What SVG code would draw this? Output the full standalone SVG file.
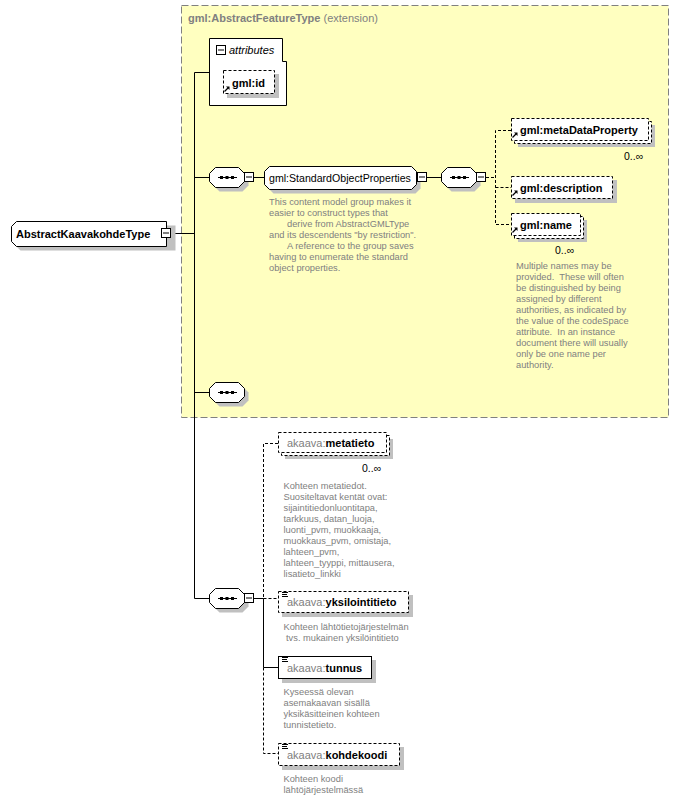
<svg xmlns="http://www.w3.org/2000/svg" xmlns:xlink="http://www.w3.org/1999/xlink" width="680" height="800" viewBox="0 0 680 800">
<style>
.bg{fill:#fff}
.box{fill:#fff;stroke:#000;stroke-width:1}
.dbox{fill:#fff;stroke:#000;stroke-width:1;stroke-dasharray:3,2}
.sh{fill:#c0c0c0}
.lbl{font-family:"Liberation Sans",Arial,sans-serif;font-size:11px;font-weight:bold;fill:#000}
.ns{font-weight:normal;fill:#808080}
.it{font-family:"Liberation Sans",Arial,sans-serif;font-size:11px;font-style:italic;fill:#000}
.reg{font-family:"Liberation Sans",Arial,sans-serif;font-size:10.6px;fill:#000}
.doc{font-family:"Liberation Sans",Arial,sans-serif;font-size:9.3px;fill:#808080}
.occ{font-family:"Liberation Sans",Arial,sans-serif;font-size:10.5px;fill:#000}
.ttl{font-family:"Liberation Sans",Arial,sans-serif;font-size:11px;fill:#808080}
.c{stroke:#000;stroke-width:1;fill:none}
.cd{stroke:#000;stroke-width:1;fill:none;stroke-dasharray:3,2}
.ext{fill:#ffffc0;stroke:#808080;stroke-width:1;stroke-dasharray:7,3}
</style>
<defs>
<g id="minus"><rect x="0.5" y="0.5" width="9" height="9" fill="#fff" stroke="#000"/><line x1="2" y1="5" x2="8" y2="5" stroke="#000"/></g>
<g id="seq">
<polygon points="6.5,0.5 29.5,0.5 35.5,6.5 35.5,14.5 29.5,20.5 6.5,20.5 0.5,14.5 0.5,6.5" transform="translate(4,4)" class="sh"/>
<polygon points="6.5,0.5 29.5,0.5 35.5,6.5 35.5,14.5 29.5,20.5 6.5,20.5 0.5,14.5 0.5,6.5" fill="#fff" stroke="#000"/>
<line x1="9" y1="10.5" x2="28" y2="10.5" stroke="#000"/>
<rect x="11" y="9" width="3" height="3" fill="#000"/><rect x="16.5" y="9" width="3" height="3" fill="#000"/><rect x="22" y="9" width="3" height="3" fill="#000"/>
</g>
<g id="ref"><line x1="0.5" y1="5.5" x2="4" y2="2" stroke="#000" stroke-width="1.2"/><polygon points="2,0.5 5.5,0.5 5.5,4" fill="#000"/></g>
<g id="simple"><line x1="3" y1="1.5" x2="9" y2="1.5" stroke="#000"/><line x1="3" y1="3.5" x2="8" y2="3.5" stroke="#000"/><line x1="3" y1="5.5" x2="9" y2="5.5" stroke="#000"/></g>
</defs>
<rect width="680" height="800" class="bg"/>

<g id="extension">
<rect x="181.5" y="5.5" width="487" height="412" class="ext"/>
<text x="188" y="22" class="ttl"><tspan font-weight="bold">gml:AbstractFeatureType</tspan> (extension)</text>
</g>

<g id="connectors">
<line x1="170" y1="233.5" x2="194.5" y2="233.5" class="c"/>
<line x1="194.5" y1="72.5" x2="194.5" y2="598.5" class="c"/>
<line x1="194.5" y1="72.5" x2="209.5" y2="72.5" class="c"/>
<line x1="194.5" y1="177.5" x2="209.5" y2="177.5" class="c"/>
<line x1="194.5" y1="392.5" x2="209.5" y2="392.5" class="c"/>
<line x1="194.5" y1="598.5" x2="209.5" y2="598.5" class="c"/>
<line x1="253" y1="177.5" x2="264.5" y2="177.5" class="c"/>
<line x1="427" y1="177.5" x2="441" y2="177.5" class="c"/>
<line x1="486" y1="177.5" x2="496" y2="177.5" class="cd"/>
<path d="M511 130.5 H495.5 V224.5 H511 M495.5 187.5 H511" class="cd"/>
<line x1="254" y1="598.5" x2="263.5" y2="598.5" class="c"/>
<path d="M278 443.5 H263.5 V598.5 M263.5 598.5 H278" class="cd"/>
<path d="M263.5 598.5 V667.5 H278" class="c"/>
<path d="M263.5 667.5 V753.5 H278" class="cd"/>
</g>

<g id="AbstractKaavakohdeType">
<polygon points="16.5,225.5 171.5,225.5 171.5,250.5 16.5,250.5 11.5,245.5 11.5,230.5" transform="translate(4,0)" class="sh"/>
<polygon points="16.5,221.5 166.5,221.5 166.5,246.5 16.5,246.5 11.5,241.5 11.5,226.5" class="box"/>
<text x="16" y="237.5" class="lbl">AbstractKaavakohdeType</text>
<use xlink:href="#minus" x="161" y="228"/>
</g>

<g id="attributes">
<polygon points="209.5,38.5 282.5,38.5 282.5,61.5 286.5,61.5 286.5,105.5 209.5,105.5" class="box"/>
<use xlink:href="#minus" x="216" y="45"/>
<text x="229" y="54" class="it">attributes</text>
</g>

<g id="gml-id">
<rect x="227" y="74" width="52" height="24" class="sh"/>
<rect x="223.5" y="70.5" width="51" height="23" class="dbox"/>
<text x="232" y="86.5" class="lbl">gml:id</text>
<use xlink:href="#ref" x="224" y="86"/>
</g>

<g id="seq1"><use xlink:href="#seq" x="209" y="167"/><use xlink:href="#minus" x="244" y="172"/></g>

<g id="StandardObjectProperties">
<polygon points="269.5,166.5 411.5,166.5 416.5,171.5 416.5,184.5 411.5,189.5 269.5,189.5 264.5,184.5 264.5,171.5" transform="translate(4,4)" class="sh"/>
<polygon points="269.5,166.5 411.5,166.5 416.5,171.5 416.5,184.5 411.5,189.5 269.5,189.5 264.5,184.5 264.5,171.5" class="box"/>
<text x="269" y="181.5" class="reg">gml:StandardObjectProperties</text>
<use xlink:href="#minus" x="417" y="172"/>
<text class="doc"><tspan x="269" y="205">This content model group makes it</tspan><tspan x="269" y="216">easier to construct types that</tspan><tspan x="287" y="227">derive from AbstractGMLType</tspan><tspan x="269" y="238">and its descendents "by restriction".</tspan><tspan x="287" y="249">A reference to the group saves</tspan><tspan x="269" y="260">having to enumerate the standard</tspan><tspan x="269" y="271">object properties.</tspan></text>
</g>

<g id="seq2"><use xlink:href="#seq" x="441" y="167"/><use xlink:href="#minus" x="476" y="172"/></g>

<g id="metaDataProperty">
<rect x="518" y="125" width="137" height="22" class="sh"/>
<rect x="514.5" y="121.5" width="137" height="22" class="dbox"/>
<rect x="511.5" y="118.5" width="137" height="22" class="dbox"/>
<text x="520" y="133.5" class="lbl">gml:metaDataProperty</text>
<use xlink:href="#ref" x="512" y="132"/>
<text x="624" y="159.5" class="occ">0..∞</text>
</g>

<g id="description">
<rect x="515" y="180" width="102" height="23" class="sh"/>
<rect x="511.5" y="176.5" width="101" height="22" class="dbox"/>
<text x="520" y="191.5" class="lbl">gml:description</text>
<use xlink:href="#ref" x="512" y="190"/>
</g>

<g id="name">
<rect x="518" y="220" width="69" height="22" class="sh"/>
<rect x="514.5" y="216.5" width="69" height="22" class="dbox"/>
<rect x="511.5" y="213.5" width="69" height="22" class="dbox"/>
<text x="520" y="228.5" class="lbl">gml:name</text>
<use xlink:href="#ref" x="512" y="227"/>
<text x="555" y="254" class="occ">0..∞</text>
<text class="doc"><tspan x="516" y="269">Multiple names may be</tspan><tspan x="516" y="280">provided.&#160; These will often</tspan><tspan x="516" y="291">be distinguished by being</tspan><tspan x="516" y="302">assigned by different</tspan><tspan x="516" y="313">authorities, as indicated by</tspan><tspan x="516" y="324">the value of the codeSpace</tspan><tspan x="516" y="335">attribute.&#160; In an instance</tspan><tspan x="516" y="346">document there will usually</tspan><tspan x="516" y="357">only be one name per</tspan><tspan x="516" y="368">authority.</tspan></text>
</g>

<g id="seq3"><use xlink:href="#seq" x="209" y="382"/></g>

<g id="seq4"><use xlink:href="#seq" x="209" y="588"/><use xlink:href="#minus" x="244" y="593"/></g>

<g id="metatieto">
<rect x="285" y="439" width="108" height="20" class="sh"/>
<rect x="281.5" y="435.5" width="108" height="20" class="dbox"/>
<rect x="278.5" y="432.5" width="108" height="20" class="dbox"/>
<text x="287" y="447" class="lbl"><tspan class="ns">akaava:</tspan>metatieto</text>
<text x="362" y="472" class="occ">0..∞</text>
<text class="doc"><tspan x="283.5" y="488.5">Kohteen metatiedot.</tspan><tspan x="283.5" y="499.5">Suositeltavat kentät ovat:</tspan><tspan x="283.5" y="510.5">sijaintitiedonluontitapa,</tspan><tspan x="283.5" y="521.5">tarkkuus, datan_luoja,</tspan><tspan x="283.5" y="532.5">luonti_pvm, muokkaaja,</tspan><tspan x="283.5" y="543.5">muokkaus_pvm, omistaja,</tspan><tspan x="283.5" y="554.5">lahteen_pvm,</tspan><tspan x="283.5" y="565.5">lahteen_tyyppi, mittausera,</tspan><tspan x="283.5" y="576.5">lisatieto_linkki</tspan></text>
</g>

<g id="yksilointitieto">
<rect x="282" y="595" width="131" height="22" class="sh"/>
<rect x="278.5" y="591.5" width="130" height="21" class="dbox"/>
<use xlink:href="#simple" x="279" y="591"/>
<text x="287" y="606" class="lbl"><tspan class="ns">akaava:</tspan>yksilointitieto</text>
<text class="doc"><tspan x="283.5" y="630">Kohteen lähtötietojärjestelmän</tspan><tspan x="286" y="641">tvs. mukainen yksilöintitieto</tspan></text>
</g>

<g id="tunnus">
<rect x="282" y="660" width="94" height="23" class="sh"/>
<rect x="278.5" y="656.5" width="93" height="22" class="box"/>
<use xlink:href="#simple" x="279" y="656"/>
<text x="287" y="672" class="lbl"><tspan class="ns">akaava:</tspan>tunnus</text>
<text class="doc"><tspan x="283.5" y="695">Kyseessä olevan</tspan><tspan x="283.5" y="706">asemakaavan sisällä</tspan><tspan x="283.5" y="717">yksikäsitteinen kohteen</tspan><tspan x="283.5" y="728">tunnistetieto.</tspan></text>
</g>

<g id="kohdekoodi">
<rect x="282" y="747" width="122" height="23" class="sh"/>
<rect x="278.5" y="743.5" width="121" height="22" class="dbox"/>
<use xlink:href="#simple" x="279" y="743"/>
<text x="287" y="759" class="lbl"><tspan class="ns">akaava:</tspan>kohdekoodi</text>
<text class="doc"><tspan x="283.5" y="781.5">Kohteen koodi</tspan><tspan x="283.5" y="792.5">lähtöjärjestelmässä</tspan></text>
</g>
</svg>
